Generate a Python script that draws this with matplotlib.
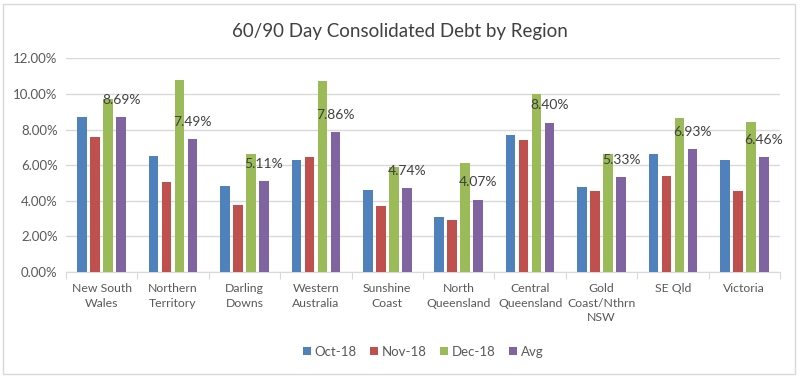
import numpy as np
import matplotlib.pyplot as plt
from matplotlib.patches import Rectangle
from matplotlib.ticker import FuncFormatter

regions = ["New South\nWales", "Northern\nTerritory", "Darling\nDowns", "Western\nAustralia",
           "Sunshine\nCoast", "North\nQueensland", "Central\nQueensland", "Gold\nCoast/Nthrn\nNSW",
           "SE Qld", "Victoria"]
oct18 = [8.69, 6.52, 4.84, 6.32, 4.58, 3.10, 7.70, 4.75, 6.62, 6.32]
nov18 = [7.57, 5.08, 3.79, 6.47, 3.70, 2.90, 7.44, 4.54, 5.40, 4.54]
dec18 = [9.70, 10.78, 6.62, 10.73, 5.89, 6.15, 10.00, 6.62, 8.65, 8.41]
avg = [8.69, 7.49, 5.11, 7.86, 4.74, 4.07, 8.40, 5.33, 6.93, 6.46]

series = [("Oct-18", oct18, "#4F81BD"), ("Nov-18", nov18, "#C0504D"),
          ("Dec-18", dec18, "#9BBB59"), ("Avg", avg, "#8064A2")]

plt.rcParams['font.family'] = ['Lato', 'DejaVu Sans']
fig = plt.figure(figsize=(8, 3.77), dpi=100)
ax = fig.add_axes([0.0825, 0.2785, 0.8925, 0.5665])

x = np.arange(len(regions))
w = 0.135
step = 0.182
for i, (name, vals, col) in enumerate(series):
    ax.bar(x + (i - 1.5) * step, vals, width=w, color=col, label=name, zorder=3)

# labels only on the Avg series
for xi, v in zip(x + 1.5 * step, avg):
    ax.annotate(f"{v:.2f}%", (xi, v), xytext=(0, 8), textcoords="offset points",
                ha="center", va="bottom", fontsize=10, color="#404040", zorder=4)

ax.set_xlim(-0.5, len(regions) - 0.5)
ax.set_ylim(0, 12)
ax.set_yticks(np.arange(0, 13, 2))
ax.yaxis.set_major_formatter(FuncFormatter(lambda v, p: f"{v:.2f}%"))
ax.grid(axis="y", color="#D9D9D9", linewidth=1, zorder=0)
for s in ["top", "right", "left"]:
    ax.spines[s].set_visible(False)
ax.spines["bottom"].set_color("#D9D9D9")
ax.tick_params(axis="y", length=0, labelsize=9.5, labelcolor="#595959", pad=6)
ax.set_xticks(np.arange(-0.5, len(regions), 1), minor=False)
ax.set_xticklabels([])
ax.tick_params(axis="x", which="major", length=5, color="#D9D9D9")
ax.set_xticks(x, minor=True)
ax.set_xticklabels(regions, minor=True, fontsize=8.8, color="#595959", va="top",
                   linespacing=1.4)
ax.tick_params(axis="x", which="minor", length=0, pad=8)

fig.suptitle("60/90 Day Consolidated Debt by Region", y=0.94, fontsize=13.5, color="#404040")
ax.legend(loc="upper center", bbox_to_anchor=(0.5, -0.29), ncol=4, frameon=False,
          fontsize=9.5, handlelength=0.6, handleheight=0.6, handletextpad=0.3,
          columnspacing=1.0, labelcolor="#595959")

fig.patches.append(Rectangle((0.004, 0.008), 0.99, 0.982, transform=fig.transFigure,
                             fill=False, edgecolor="#D9D9D9", linewidth=1))
fig.savefig("out.png", dpi=100)
